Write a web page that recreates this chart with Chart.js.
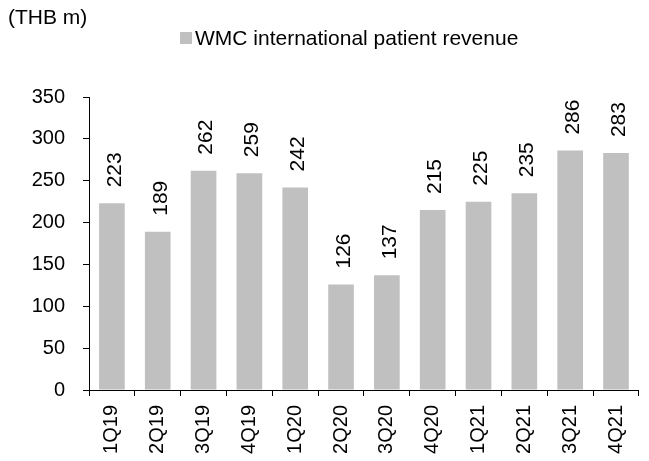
<html>
<head>
  <script src="https://cdn.jsdelivr.net/npm/chart.js"></script>
  <style>
    body { margin: 0; background: #fff; }
    #wrap { width: 649px; height: 461px; }
  </style>
</head>
<body>
  <div id="wrap"><canvas id="revChart"></canvas></div>
  <script>
    const quarters = ['1Q19', '2Q19', '3Q19', '4Q19', '1Q20', '2Q20', '3Q20', '4Q20', '1Q21', '2Q21', '3Q21', '4Q21'];
    const revenue = [223, 189, 262, 259, 242, 126, 137, 215, 225, 235, 286, 283];
    const seriesName = 'WMC international patient revenue';
    const unitLabel = '(THB m)';

    const FONT = "'Liberation Sans', Arial, sans-serif";
    const barGrey = '#c0c0c0';

    // value labels written upward above each bar
    const barLabels = {
      id: 'barLabels',
      afterDatasetsDraw(chart) {
        const ctx = chart.ctx;
        const meta = chart.getDatasetMeta(0);
        ctx.save();
        ctx.font = '21px ' + FONT;
        ctx.fillStyle = '#000';
        meta.data.forEach((bar, i) => {
          ctx.save();
          ctx.translate(bar.x + 3, bar.y - 16);
          ctx.rotate(-Math.PI / 2);
          ctx.textAlign = 'left';
          ctx.textBaseline = 'middle';
          ctx.fillText(String(revenue[i]), 0, 0);
          ctx.restore();
        });
        ctx.restore();
      }
    };

    // unit note and legend at the top
    const header = {
      id: 'header',
      afterDraw(chart) {
        const ctx = chart.ctx;
        ctx.save();
        ctx.font = '21px ' + FONT;
        ctx.fillStyle = '#000';
        ctx.textBaseline = 'middle';
        ctx.textAlign = 'left';
        ctx.fillText(unitLabel, 8, 18);
        ctx.fillStyle = barGrey;
        ctx.fillRect(180, 32, 12, 12);
        ctx.fillStyle = '#000';
        ctx.fillText(seriesName, 195, 39);
        ctx.restore();
      }
    };

    new Chart(document.getElementById('revChart'), {
      type: 'bar',
      data: {
        labels: quarters,
        datasets: [{
          label: seriesName,
          data: revenue,
          backgroundColor: barGrey,
          borderWidth: 0,
          barPercentage: 0.56,
          categoryPercentage: 1
        }]
      },
      options: {
        responsive: true,
        maintainAspectRatio: false,
        animation: false,
        layout: { padding: { top: 97, right: 0, left: 0, bottom: 0 } },
        plugins: {
          legend: { display: false },
          title: { display: false },
          tooltip: { enabled: false }
        },
        scales: {
          x: {
            afterFit(scale) { scale.height = 71; },
            grid: {
              offset: true,
              drawOnChartArea: false,
              drawTicks: true,
              tickLength: 6,
              color: '#000'
            },
            border: { color: '#000', width: 1 },
            ticks: {
              color: '#000',
              font: { family: FONT, size: 20 },
              minRotation: 90,
              maxRotation: 90,
              padding: 9,
              autoSkip: false
            }
          },
          y: {
            min: 0,
            max: 350,
            afterFit(scale) { scale.width = 89; },
            grid: {
              drawOnChartArea: false,
              drawTicks: true,
              tickLength: 6,
              color: '#000'
            },
            border: { color: '#000', width: 1 },
            ticks: {
              stepSize: 50,
              color: '#000',
              font: { family: FONT, size: 20 },
              padding: 18
            }
          }
        }
      },
      plugins: [barLabels, header]
    });
  </script>
</body>
</html>
